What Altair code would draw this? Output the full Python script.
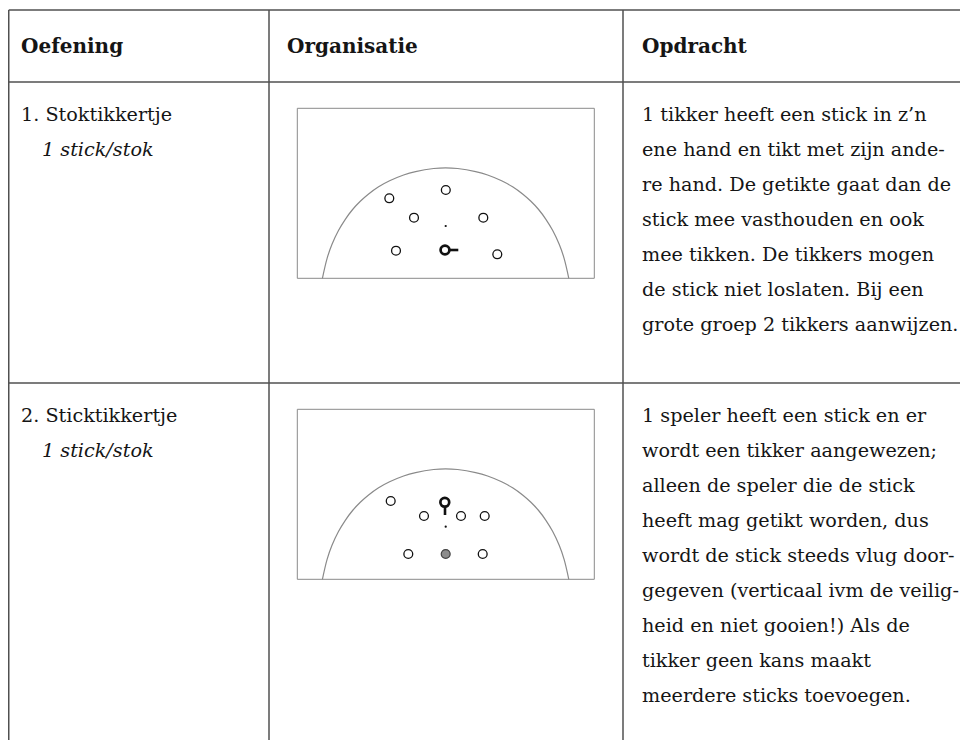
import altair as alt
import pandas as pd

# ---------------- content ----------------
headers = ["Oefening", "Organisatie", "Opdracht"]
exercise_names = ["1. Stoktikkertje", "2. Sticktikkertje"]
exercise_materials = ["1 stick/stok", "1 stick/stok"]
instructions_1 = [
    "1 tikker heeft een stick in z\u2019n",
    "ene hand en tikt met zijn ande-",
    "re hand. De getikte gaat dan de",
    "stick mee vasthouden en ook",
    "mee tikken. De tikkers mogen",
    "de stick niet loslaten. Bij een",
    "grote groep 2 tikkers aanwijzen.",
]
instructions_2 = [
    "1 speler heeft een stick en er",
    "wordt een tikker aangewezen;",
    "\u00a0alleen de speler die de stick",
    "heeft mag getikt worden, dus",
    "wordt de stick steeds vlug door-",
    "gegeven (verticaal ivm de veilig-",
    "heid en niet gooien!) Als de",
    "tikker geen kans maakt",
    "meerdere sticks toevoegen.",
]
instructions = [instructions_1, instructions_2]

# ---------------- diagram values (field units: x from left of field, y up from baseline) ----
field_w = 297
field_h = 170
field_cx = 148.3
arc_dx = [0, 12, 30, 42, 56, 67, 77, 85.3, 93, 100.3, 107, 113.6, 118.5, 123.2]
arc_h = [110.5, 109.8, 106.7, 103.3, 97.5, 91.5, 84.3, 77, 68.8, 59, 48, 34, 20, 0]

# diagram 1
d1_open_x = [92, 148.5, 116.7, 186, 98.7, 200]
d1_open_y = [80, 88.3, 60.6, 60.6, 27.6, 24]
d1_spot_x = [148.4]
d1_spot_y = [52.3]
d1_stick_player_x = [147.7]
d1_stick_player_y = [28.3]
d1_stick_x = [152.5]
d1_stick_x2 = [161]
d1_stick_y = [28.3]
d1_stick_y2 = [28.3]
d1_tagger_x = []
d1_tagger_y = []

# diagram 2
d2_open_x = [93.4, 126.7, 163.7, 187.4, 111, 185.4]
d2_open_y = [78.3, 63.3, 63.3, 63.3, 25.3, 25.3]
d2_spot_x = [148.4]
d2_spot_y = [52.6]
d2_stick_player_x = [147.5]
d2_stick_player_y = [77]
d2_stick_x = [147.7]
d2_stick_x2 = [147.7]
d2_stick_y = [72.3]
d2_stick_y2 = [64.3]
d2_tagger_x = [148.4]
d2_tagger_y = [25.3]

# ---------------- layout ----------------
W, H = 952, 732
page_x0, page_y0 = 8, 8
col_edges = [8.75, 269, 623]
row_lines = [10, 82, 383]
page_bottom = 740
page_right = 960
text_x = [21, 287, 642]
material_x = 42
header_y = 47
line_gap = 35
first_line_offset = 33
diag_left = 297.3
diag_bottoms = [278.3, 579.3]

xs = alt.Scale(domain=[page_x0, page_x0 + W], nice=False, zero=False)
ys = alt.Scale(domain=[page_y0, page_y0 + H], nice=False, zero=False, reverse=True)


def X(f="x"):
    return alt.X(f + ":Q", scale=xs, axis=None)


def Y(f="y"):
    return alt.Y(f + ":Q", scale=ys, axis=None)


# table lines
rows = []
for r in row_lines:
    rows.append(dict(x=col_edges[0], x2=page_right, y=r, y2=r))
for c in col_edges:
    rows.append(dict(x=c, x2=c, y=row_lines[0], y2=page_bottom))
lines_df = pd.DataFrame(rows)
table = alt.Chart(lines_df).mark_rule(color="#505050", strokeWidth=1.5).encode(
    x=X(), y=Y(), x2="x2:Q", y2="y2:Q"
)

# texts
header_df = pd.DataFrame(dict(x=text_x, y=[header_y] * 3, t=headers))
body_rows, ital_rows = [], []
row_tops = [row_lines[1], row_lines[2]]
for i in range(2):
    y0 = row_tops[i] + first_line_offset
    body_rows.append(dict(x=text_x[0], y=y0, t=exercise_names[i]))
    ital_rows.append(dict(x=material_x, y=y0 + line_gap, t=exercise_materials[i]))
    for k, line in enumerate(instructions[i]):
        body_rows.append(dict(x=text_x[2], y=y0 + k * line_gap, t=line))
body_df = pd.DataFrame(body_rows)
ital_df = pd.DataFrame(ital_rows)

txt_common = dict(align="left", baseline="middle", font="DejaVu Serif", color="#151515")
header_t = alt.Chart(header_df).mark_text(fontSize=20, fontWeight="bold", **txt_common).encode(
    x=X(), y=Y(), text="t:N"
)
body_t = alt.Chart(body_df).mark_text(fontSize=19.2, **txt_common).encode(x=X(), y=Y(), text="t:N")
ital_t = alt.Chart(ital_df).mark_text(fontSize=19.2, fontStyle="italic", **txt_common).encode(
    x=X(), y=Y(), text="t:N"
)

# diagrams
frames, arcs, opens, spots, holders, sticks, taggers = [], [], [], [], [], [], []
diagrams = [
    (d1_open_x, d1_open_y, d1_spot_x, d1_spot_y, d1_stick_player_x, d1_stick_player_y,
     d1_stick_x, d1_stick_x2, d1_stick_y, d1_stick_y2, d1_tagger_x, d1_tagger_y),
    (d2_open_x, d2_open_y, d2_spot_x, d2_spot_y, d2_stick_player_x, d2_stick_player_y,
     d2_stick_x, d2_stick_x2, d2_stick_y, d2_stick_y2, d2_tagger_x, d2_tagger_y),
]


def px(d, v):
    return diag_left + v


def py(d, v):
    return diag_bottoms[d] - v


for d, (ox, oy, sx, sy, hx, hy, kx, kx2, ky, ky2, tx, ty) in enumerate(diagrams):
    frames.append(dict(x=px(d, 0), x2=px(d, field_w), y=py(d, 0), y2=py(d, field_h)))
    pts = []
    for dx, h in zip(arc_dx, arc_h):
        pts.append((field_cx - dx, h))
        if dx != 0:
            pts.append((field_cx + dx, h))
    pts.sort()
    for j, (a, b) in enumerate(pts):
        arcs.append(dict(x=px(d, a), y=py(d, b), diag=d, o=j))
    for a, b in zip(ox, oy):
        opens.append(dict(x=px(d, a), y=py(d, b)))
    for a, b in zip(sx, sy):
        spots.append(dict(x=px(d, a), y=py(d, b)))
    for a, b in zip(hx, hy):
        holders.append(dict(x=px(d, a), y=py(d, b)))
    for a, a2, b, b2 in zip(kx, kx2, ky, ky2):
        sticks.append(dict(x=px(d, a), x2=px(d, a2), y=py(d, b), y2=py(d, b2)))
    for a, b in zip(tx, ty):
        taggers.append(dict(x=px(d, a), y=py(d, b)))

frame_l = alt.Chart(pd.DataFrame(frames)).mark_rect(
    fillOpacity=0, stroke="#8a8a8a", strokeWidth=1
).encode(x=X(), y=Y(), x2="x2:Q", y2="y2:Q")
arc_l = alt.Chart(pd.DataFrame(arcs)).mark_line(
    color="#8a8a8a", strokeWidth=1.2, interpolate="catmull-rom"
).encode(x=X(), y=Y(), detail="diag:N", order="o:Q")
open_l = alt.Chart(pd.DataFrame(opens)).mark_point(
    shape="circle", size=78, filled=False, color="#111111", strokeWidth=1.3, opacity=1
).encode(x=X(), y=Y())
spot_l = alt.Chart(pd.DataFrame(spots)).mark_point(
    shape="circle", size=5, filled=True, color="#111111", opacity=1
).encode(x=X(), y=Y())
stick_l = alt.Chart(pd.DataFrame(sticks)).mark_rule(color="#111111", strokeWidth=2.6).encode(
    x=X(), y=Y(), x2="x2:Q", y2="y2:Q"
)
holder_l = alt.Chart(pd.DataFrame(holders)).mark_point(
    shape="circle", size=78, filled=False, color="#111111", strokeWidth=2.7, opacity=1
).encode(x=X(), y=Y())
tagger_l = alt.Chart(pd.DataFrame(taggers)).mark_point(
    shape="circle", size=80, filled=True, fill="#8c8c8c", stroke="#444444", strokeWidth=1.2, opacity=1
).encode(x=X(), y=Y())

chart = alt.layer(
    table, frame_l, arc_l, open_l, spot_l, stick_l, holder_l, tagger_l, header_t, body_t, ital_t
).properties(
    width=W, height=H, autosize=alt.AutoSizeParams(type="none"), padding=0
).configure_view(strokeWidth=0)

chart.save("out.html", embed_options={"renderer": "svg", "actions": False})
